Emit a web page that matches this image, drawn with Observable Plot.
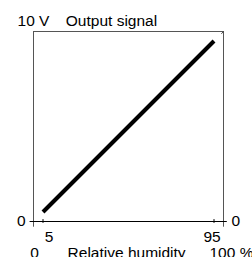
<!DOCTYPE html>
<html>
<head>
<meta charset="utf-8">
<script src="https://cdn.jsdelivr.net/npm/d3@7"></script>
<script src="https://cdn.jsdelivr.net/npm/@observablehq/plot@0.6"></script>
<style>
  html, body { margin: 0; padding: 0; background: #fff; }
</style>
</head>
<body>
<div id="chart"></div>
<script>
// Data
const humidity = [5, 95];          // % relative humidity
const signal = [0.5, 9.5];         // V output signal
const xTickValues = [5, 95];
const xTickLabels = ["5", "95"];
const bottomLabels = ["0", "Relative humidity", "100 %"];
const bottomLabelX = [0, 49, 100];
const topLabels = ["10 V", "Output signal"];
const topLabelX = [0, 17];
const yEndLabel = "0";

const lineData = humidity.map((h, i) => ({h, v: signal[i]}));
const txt = (labels, xs, i, y) => [{t: labels[i], x: xs[i], y}];

const font = "Liberation Sans, Arial, sans-serif";

const chart = Plot.plot({
  width: 252,
  height: 257,
  marginLeft: 33,
  marginRight: 29,
  marginTop: 31,
  marginBottom: 36,
  x: {domain: [0, 100], axis: null},
  y: {domain: [0, 10], axis: null},
  style: {fontFamily: font, fontSize: "15.5px", background: "#fff", overflow: "visible"},
  marks: [
    // frame: left/right (extending below the axis) and top
    Plot.ruleX([0, 100], {y1: -0.3, y2: 10, stroke: "#555", strokeWidth: 1}),
    Plot.ruleY([10], {x1: 0, x2: 100, stroke: "#555", strokeWidth: 1}),
    // bottom axis
    Plot.ruleY([0], {x1: -1.8, x2: 102, stroke: "#000", strokeWidth: 1}),
    // x ticks
    Plot.ruleX(xTickValues, {y1: -0.1, y2: 0.1, stroke: "#000", strokeWidth: 1}),
    // small corner mark
    Plot.link([{a: 98.9, b: 9.88, c: 100, d: 10}], {x1: "a", y1: "b", x2: "c", y2: "d", stroke: "#444", strokeWidth: 1}),
    // output line
    Plot.line(lineData, {x: "h", y: "v", stroke: "#000", strokeWidth: 4, strokeLinecap: "butt"}),
    // y end labels
    Plot.text([{t: yEndLabel, x: 0, y: 0}], {x: "x", y: "y", text: "t", textAnchor: "end", dx: -8, fill: "#000"}),
    Plot.text([{t: yEndLabel, x: 100, y: 0}], {x: "x", y: "y", text: "t", textAnchor: "start", dx: 8, fill: "#000"}),
    // top labels
    Plot.text(txt(topLabels, topLabelX, 0, 10), {x: "x", y: "y", text: "t", textAnchor: "middle", dy: -10.5, fill: "#000"}),
    Plot.text(txt(topLabels, topLabelX, 1, 10), {x: "x", y: "y", text: "t", textAnchor: "start", dy: -10.5, fill: "#000"}),
    // x tick labels
    Plot.text(txt(xTickLabels, xTickValues, 0, 0), {x: "x", y: "y", text: "t", dx: 6, dy: 16, fill: "#000"}),
    Plot.text(txt(xTickLabels, xTickValues, 1, 0), {x: "x", y: "y", text: "t", dx: -2, dy: 16, fill: "#000"}),
    // bottom labels
    Plot.text(txt(bottomLabels, bottomLabelX, 0, 0), {x: "x", y: "y", text: "t", dx: 1, dy: 31.5, fill: "#000"}),
    Plot.text(txt(bottomLabels, bottomLabelX, 1, 0), {x: "x", y: "y", text: "t", dy: 31.5, fill: "#000"}),
    Plot.text(txt(bottomLabels, bottomLabelX, 2, 0), {x: "x", y: "y", text: "t", textAnchor: "start", dx: -14, dy: 31.5, fill: "#000"})
  ]
});

document.getElementById("chart").appendChild(chart);
</script>
</body>
</html>
